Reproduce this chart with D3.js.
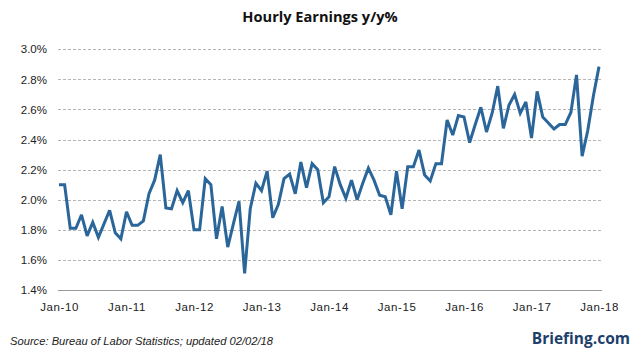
<!DOCTYPE html>
<html>
<head>
<meta charset="utf-8">
<script src="https://cdn.jsdelivr.net/npm/d3@7"></script>
<style>
  html, body { margin: 0; padding: 0; background: #fff; }
  svg { display: block; }
</style>
</head>
<body>
<svg id="chart" width="642" height="361"></svg>
<script>
// Monthly y/y % change in average hourly earnings, Jan-2010 .. Jan-2018
const startYear = 2010;
const values = [
  2.10, 2.10, 1.81, 1.81, 1.90, 1.76, 1.85, 1.75, 1.84, 1.93, 1.78, 1.74,
  1.92, 1.83, 1.83, 1.86, 2.04, 2.13, 2.30, 1.945, 1.94, 2.06, 1.98, 2.06,
  1.80, 1.80, 2.14, 2.10, 1.74, 1.955, 1.685, 1.84, 1.99, 1.51, 1.94, 2.11,
  2.06, 2.19, 1.88, 1.97, 2.14, 2.17, 2.04, 2.25, 2.08, 2.24, 2.20, 1.98,
  2.02, 2.22, 2.10, 2.01, 2.13, 2.00, 2.11, 2.21, 2.13, 2.03, 2.02, 1.90,
  2.19, 1.94, 2.22, 2.22, 2.33, 2.165, 2.125, 2.24, 2.24, 2.53, 2.43, 2.56,
  2.55, 2.38, 2.50, 2.615, 2.45, 2.575, 2.755, 2.475, 2.63, 2.70, 2.575, 2.65,
  2.41, 2.72, 2.55, 2.51, 2.47, 2.50, 2.50, 2.58, 2.83, 2.29, 2.46, 2.69,
  2.885
];
const xTickIndex = [0, 12, 24, 36, 48, 60, 72, 84, 96];
const xTickLabels = ["Jan-10", "Jan-11", "Jan-12", "Jan-13", "Jan-14", "Jan-15", "Jan-16", "Jan-17", "Jan-18"];
const yTicks = [1.4, 1.6, 1.8, 2.0, 2.2, 2.4, 2.6, 2.8, 3.0];

const title = "Hourly Earnings y/y%";
const source = "Source: Bureau of Labor Statistics; updated 02/02/18";
const brand = "Briefing.com";

const svg = d3.select("#chart");
const x = d3.scaleLinear().domain([0, values.length - 1]).range([59, 599]);
const y = d3.scaleLinear().domain([1.4, 3.0]).range([290, 49.3]);

// gridlines
svg.append("g").selectAll("line")
  .data(yTicks)
  .join("line")
  .attr("x1", 58).attr("x2", 602)
  .attr("y1", d => Math.round(y(d)) + 0.5).attr("y2", d => Math.round(y(d)) + 0.5)
  .attr("stroke", d => d === 1.4 ? "#9a9a9a" : "#b4b4b4")
  .attr("stroke-width", 1)
  .attr("stroke-dasharray", d => d === 1.4 ? null : "3,2");

// y labels
const yAxis = d3.axisLeft(y).tickValues(yTicks).tickSize(0).tickPadding(0)
  .tickFormat(d => d.toFixed(1) + "%");
const gy = svg.append("g").attr("transform", "translate(47,0)").call(yAxis);
gy.select(".domain").remove();
gy.selectAll("text")
  .attr("font-family", "'Liberation Sans', Arial, sans-serif")
  .attr("font-size", "11.5px")
  .attr("fill", "#222");

// x labels
const xAxis = d3.axisBottom(x).tickValues(xTickIndex).tickSize(0).tickPadding(0)
  .tickFormat((d, i) => xTickLabels[i]);
const gx = svg.append("g").attr("transform", "translate(0,303)").call(xAxis);
gx.select(".domain").remove();
gx.selectAll("text")
  .attr("font-family", "'Liberation Sans', Arial, sans-serif")
  .attr("font-size", "11.5px")
  .attr("letter-spacing", "0.6px")
  .attr("fill", "#222");

// line
const line = d3.line().x((d, i) => x(i)).y(d => y(d));
svg.append("path")
  .datum(values)
  .attr("d", line)
  .attr("fill", "none")
  .attr("stroke", "#2a6699")
  .attr("stroke-width", 3)
  .attr("stroke-linejoin", "miter")
  .attr("stroke-miterlimit", 3);

// title
svg.append("text")
  .attr("x", 320).attr("y", 22)
  .attr("text-anchor", "middle")
  .attr("font-family", "'Open Sans', 'Noto Sans', sans-serif")
  .attr("font-weight", "bold")
  .attr("font-size", "14.6px")
  .attr("fill", "#111")
  .text(title);

// source
svg.append("text")
  .attr("x", 10).attr("y", 345)
  .attr("font-family", "'Liberation Sans', Arial, sans-serif")
  .attr("font-style", "italic")
  .attr("font-size", "10.5px")
  .attr("textLength", 263)
  .attr("lengthAdjust", "spacingAndGlyphs")
  .attr("fill", "#222")
  .text(source);

// brand
svg.append("text")
  .attr("x", 630).attr("y", 344)
  .attr("text-anchor", "end")
  .attr("font-family", "'Open Sans', 'Noto Sans', sans-serif")
  .attr("font-weight", "bold")
  .attr("font-size", "15.5px")
  .attr("fill", "#1d3f6c")
  .text(brand);
</script>
</body>
</html>
